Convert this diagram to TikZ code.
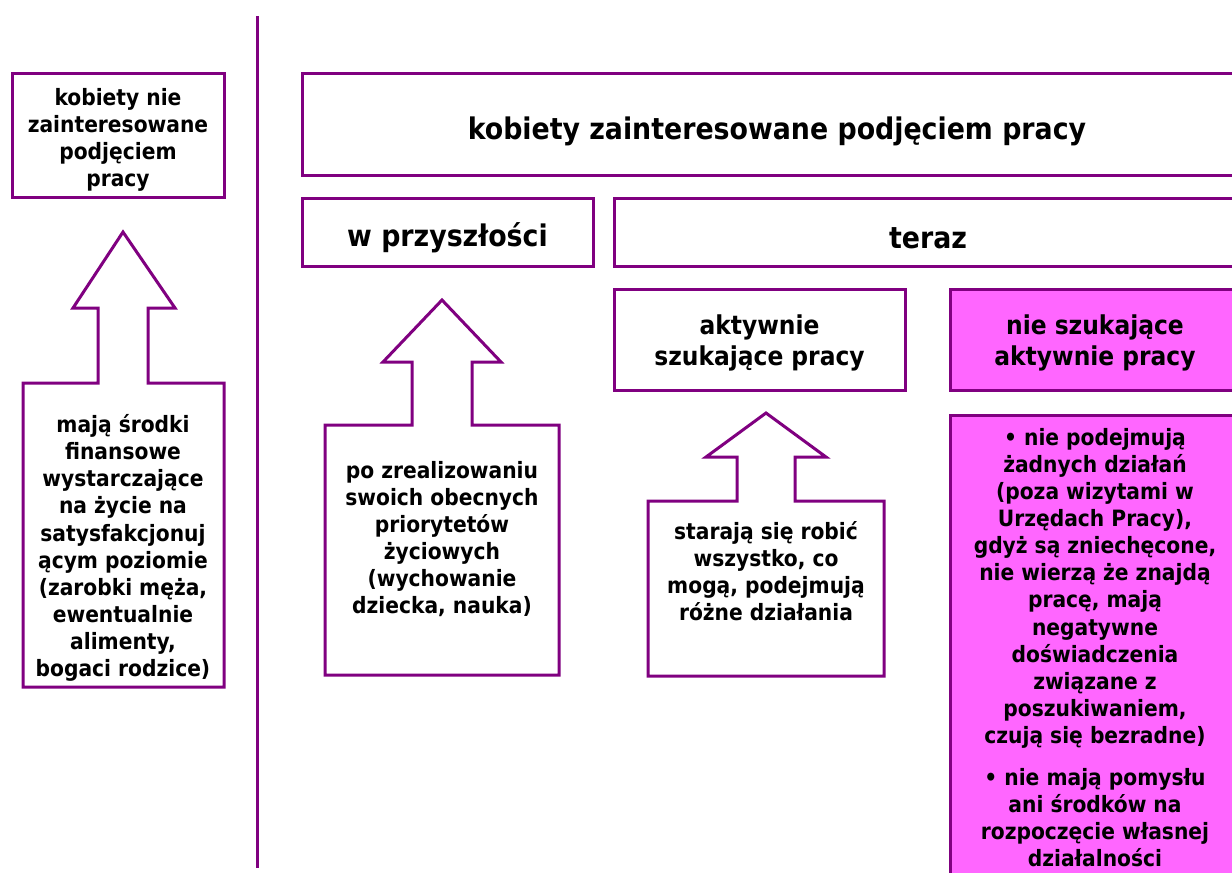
\documentclass[tikz,border=0pt]{standalone}
\usepackage{fontspec}
\setmainfont{DejaVu Sans Condensed}
\definecolor{lila}{HTML}{800080}
\definecolor{roz}{HTML}{FF66FF}
\tikzset{
  box/.style={draw=lila, line width=3pt, inner sep=0pt},
  pinkbox/.style={box, fill=roz},
  arrowbox/.style={draw=lila, line width=3pt, line join=miter},
  big/.style={font=\fontsize{29.8}{34}\selectfont\bfseries},
  mid/.style={font=\fontsize{26}{31}\selectfont\bfseries},
  small/.style={font=\fontsize{22.5}{27.1}\selectfont\bfseries},
  txt/.style={align=center, inner sep=0pt}
}
\begin{document}
\begin{tikzpicture}[x=1pt,y=-1pt]
\clip (0,0) rectangle (1232,873);
\fill[white] (0,0) rectangle (1232,873);
% separator
\coordinate (sepT) at (257,16);
\coordinate (sepB) at (257,868);
\draw[lila, line width=3pt] (sepT) -- (sepB);
% left box
\node[box, minimum width=212pt, minimum height=124pt] (b1) at (118,135) {};
\node[txt, small] (b1t) at (118,140) {kobiety nie\\zainteresowane\\podjęciem\\pracy};
% arrow box left
\draw[arrowbox] (23,687) -- (23,383) -- (98,383) -- (98,308) -- (73,308) -- (123,232) -- (175,308) -- (148,308) -- (148,383) -- (224,383) -- (224,687) -- cycle;
\node[txt, small] (t1) at (123,548)
  {mają środki\\finansowe\\wystarczające\\na życie na\\satysfakcjonuj\\ącym poziomie\\(zarobki męża,\\ewentualnie\\alimenty,\\bogaci rodzice)};
% top boxes
\node[box, minimum width=950pt, minimum height=102pt] (top) at (777,124) {};
\node[txt, big] (topt) at (777,131) {kobiety zainteresowane podjęciem pracy};
\node[box, minimum width=291pt, minimum height=68pt] (fut) at (447.5,232) {};
\node[txt, big] (futt) at (447.5,238) {w przyszłości};
\node[box, minimum width=628pt, minimum height=68pt] (now) at (928,232) {};
\node[txt, big] (nowt) at (928,238) {teraz};
\node[box, minimum width=291pt, minimum height=101pt] (akt) at (759.5,339.5) {};
\node[txt, mid] (aktt) at (759.5,343) {aktywnie\\szukające pracy};
\node[pinkbox, minimum width=290pt, minimum height=101pt] (nie) at (1095,339.5) {};
\node[txt, mid] (niet) at (1095,343) {nie szukające\\aktywnie pracy};
% arrow box middle
\draw[arrowbox] (325,675) -- (325,425) -- (412,425) -- (412,362) -- (383,362) -- (442,300) -- (501,362) -- (472,362) -- (472,425) -- (559,425) -- (559,675) -- cycle;
\node[txt, small] (t2) at (442,539)
  {po zrealizowaniu\\swoich obecnych\\priorytetów\\życiowych\\(wychowanie\\dziecka, nauka)};
% arrow box right
\draw[arrowbox] (648,676) -- (648,501) -- (737,501) -- (737,457) -- (706,457) -- (766,413) -- (826,457) -- (795,457) -- (795,501) -- (884,501) -- (884,676) -- cycle;
\node[txt, small] (t3) at (766,571)
  {starają się robić\\wszystko, co\\mogą, podejmują\\różne działania};
% pink body
\node[pinkbox, minimum width=290pt, minimum height=480pt, anchor=north] (body) at (1095,414) {};
\node[txt, small, anchor=north] (t4) at (1095,428)
  {• nie podejmują\\żadnych działań\\(poza wizytami w\\Urzędach Pracy),\\gdyż są zniechęcone,\\nie wierzą że znajdą\\pracę, mają\\negatywne\\doświadczenia\\związane z\\poszukiwaniem,\\czują się bezradne)\\[15pt]• nie mają pomysłu\\ani środków na\\rozpoczęcie własnej\\działalności};
\end{tikzpicture}
\end{document}
